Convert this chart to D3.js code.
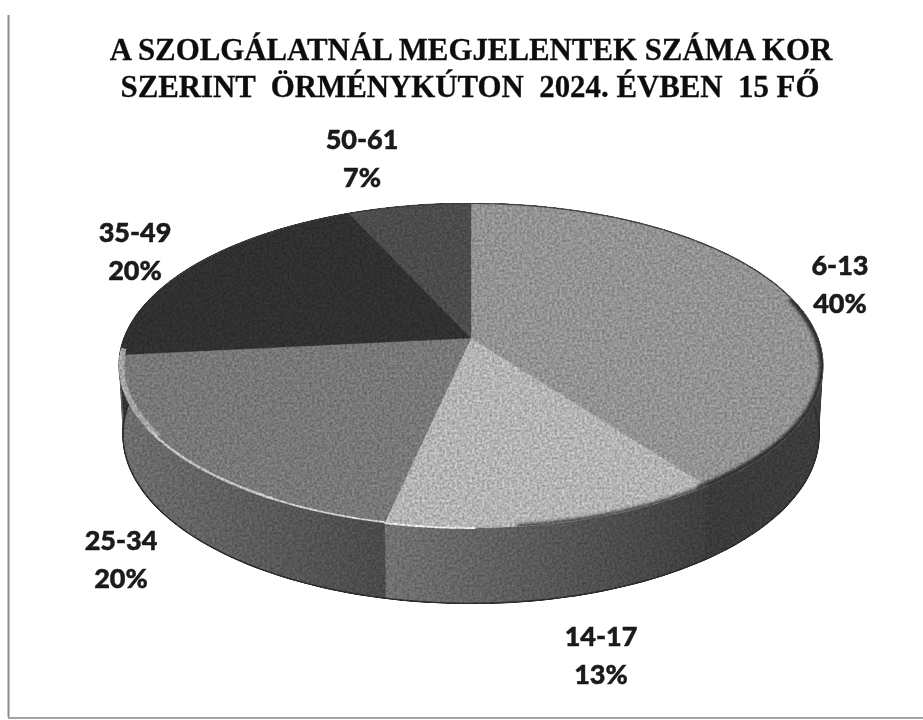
<!DOCTYPE html>
<html><head><meta charset="utf-8">
<script src="https://cdnjs.cloudflare.com/ajax/libs/d3/7.8.5/d3.min.js"></script>
<style>html,body{margin:0;padding:0;background:#fff}svg{display:block}</style>
</head><body><svg id="c" width="923" height="720"></svg>
<script>
const titleLines = ["A SZOLGÁLATNÁL MEGJELENTEK SZÁMA KOR", "SZERINT  ÖRMÉNYKÚTON  2024. ÉVBEN  15 FŐ"];
const categories = ["6-13", "14-17", "25-34", "35-49", "50-61"];
const counts = [6, 2, 3, 3, 1];
const percentLabels = ["40%", "13%", "20%", "20%", "7%"];
const topColors = ["#939393", "#b4b4b4", "#787878", "#303030", "#4c4c4c"];
const sideLeft = ["#3a3a3a", "#727272", "#6e6e6e", "#333333", "#444444"];
const sideRight = ["#3c3c3c", "#3e3e3e", "#4a4a4a", "#333333", "#444444"];
const labelAnchors = [[840, 275], [601, 646], [121, 550], [135, 242], [362, 149]];

const svg = d3.select("#c");
const W = 923, H = 720;
const defs = svg.append("defs");

const f = defs.append("filter").attr("id","grain").attr("x","0").attr("y","0").attr("width","1").attr("height","1")
  .attr("color-interpolation-filters","sRGB");
f.append("feGaussianBlur").attr("in","SourceGraphic").attr("stdDeviation",0.6).attr("result","soft");
f.append("feTurbulence").attr("type","fractalNoise").attr("baseFrequency",0.4).attr("numOctaves",2).attr("seed",4).attr("result","n");
f.append("feColorMatrix").attr("in","n").attr("type","matrix")
  .attr("values","1 0 0 0 0  1 0 0 0 0  1 0 0 0 0  0 0 0 0 1").attr("result","gray");
f.append("feComposite").attr("in","soft").attr("in2","gray").attr("operator","arithmetic")
  .attr("k1",0.6).attr("k2",0.7).attr("k3",0).attr("k4",0);
const soft = defs.append("filter").attr("id","soft").attr("x","-5%").attr("y","-5%").attr("width","110%").attr("height","110%");
soft.append("feGaussianBlur").attr("stdDeviation",1.8);
defs.append("filter").attr("id","ts").append("feGaussianBlur").attr("stdDeviation",0.35);

const persp = 0.169;
const project = (R, S, cx, cy) => a => {
  const u = Math.sin(a), v = -Math.cos(a), w = 1 - persp * v;
  return [cx + R * u / w, cy + S * v / w];
};
const topRim = project(347, 157.8, 471, 338);
const botRim = project(343, 164, 471, 406);
const apex = [471, 338];
const line = d3.line();
const samples = (a0, a1, n = 60) => d3.range(n + 1).map(i => a0 + (a1 - a0) * i / n);

const pie = d3.pie().sort(null).value(d => d);
const arcs = pie(counts);
const color = d3.scaleOrdinal(categories, topColors);

const g = svg.append("g").attr("filter","url(#grain)");

const circle = samples(0, 2 * Math.PI, 240);
const hull = d3.polygonHull(circle.map(topRim).concat(circle.map(botRim)));
const hg = defs.append("linearGradient").attr("id","hullFill").attr("gradientUnits","userSpaceOnUse")
  .attr("x1",100).attr("x2",840).attr("y1",0).attr("y2",0);
[[0,"#6e6e6e"],[0.5,"#6e6e6e"],[0.5,"#3c3c3c"],[1,"#3c3c3c"]].forEach(s =>
  hg.append("stop").attr("offset",s[0]).attr("stop-color",s[1]));
g.append("path").attr("d", line(hull) + "Z").attr("fill","url(#hullFill)");

const front = [Math.PI * 0.44, Math.PI * 1.56];
arcs.map((d, i) => ({i, a0: Math.max(d.startAngle, front[0]), a1: Math.min(d.endAngle, front[1])}))
  .filter(d => d.a1 > d.a0)
  .forEach(d => {
    const id = "side" + d.i;
    const pts = samples(d.a0, d.a1);
    const xs = pts.map(a => botRim(a)[0]).concat(pts.map(a => topRim(a)[0]));
    const lg = defs.append("linearGradient").attr("id", id).attr("gradientUnits","userSpaceOnUse")
      .attr("x1", d3.min(xs)).attr("x2", d3.max(xs)).attr("y1",0).attr("y2",0);
    lg.append("stop").attr("offset",0).attr("stop-color", sideLeft[d.i]);
    lg.append("stop").attr("offset",1).attr("stop-color", sideRight[d.i]);
    g.append("path")
      .attr("d", line(pts.map(topRim).concat(pts.slice().reverse().map(botRim))) + "Z")
      .attr("fill", `url(#${id})`).attr("stroke", `url(#${id})`).attr("stroke-width",0.6);
  });
g.append("path").attr("d", line(samples(1.0, 5.25, 160).map(botRim)))
  .attr("fill","none").attr("stroke","#2c2c2c").attr("stroke-width",1.4);

arcs.forEach((d, i) => {
  const pts = samples(d.startAngle, d.endAngle).map(topRim);
  g.append("path").attr("d", line([apex, ...pts]) + "Z")
    .attr("fill", color(categories[i])).attr("stroke", color(categories[i])).attr("stroke-width",0.4);
});

const rp = d3.range(0, 2 * Math.PI + .01, .02).map(topRim);
defs.append("clipPath").attr("id","face").append("path").attr("d", line(rp) + "Z");
const fx = g.append("g").attr("clip-path","url(#face)");
fx.append("path").attr("d", line(samples(1.3, arcs[0].endAngle + 0.03).map(topRim)))
  .attr("fill","none").attr("stroke","#2e2e2e").attr("stroke-width",8).attr("filter","url(#soft)");
fx.append("path").attr("d", line(samples(arcs[1].startAngle, arcs[1].endAngle - 0.32).map(topRim)))
  .attr("fill","none").attr("stroke","#4a4a4a").attr("stroke-width",5).attr("filter","url(#soft)");
fx.append("path").attr("d", line(samples(-1.2, 1.3, 120).map(topRim)))
  .attr("fill","none").attr("stroke","#3a3a3a").attr("stroke-width",2);
fx.append("path").attr("d", line(samples(4.1, 4.65, 40).map(topRim)))
  .attr("fill","none").attr("stroke","#a6a6a6").attr("stroke-width",11);
fx.append("path").attr("d", line(samples(3.65, 4.15, 40).map(topRim)))
  .attr("fill","none").attr("stroke","#c0c0c0").attr("stroke-width",5);
fx.append("path").attr("d", line(samples(arcs[2].startAngle, 3.7, 40).map(topRim)))
  .attr("fill","none").attr("stroke","#d4d4d4").attr("stroke-width",3.4);
g.append("path").attr("d", line(samples(arcs[1].endAngle - 0.22, arcs[1].endAngle, 20).map(topRim)))
  .attr("fill","none").attr("stroke","#e4e4e4").attr("stroke-width",2);

const tg = svg.append("g").attr("filter","url(#ts)");
tg.selectAll("text.title").data(titleLines).join("text").attr("class","title")
  .attr("x",(d,i)=>i?470:471).attr("y",(d,i)=>60+i*36.5).attr("text-anchor","middle")
  .attr("font-family","'Liberation Serif',serif").attr("font-weight",700).attr("font-size",30.85)
  .attr("fill","#101010").attr("stroke","#101010").attr("stroke-width",0.3).style("white-space","pre").text(d=>d);

categories.forEach((c,i)=>{
  const [x,y]=labelAnchors[i];
  [c,percentLabels[i]].forEach((t,j)=>{
    tg.append("text").attr("x",x).attr("y",y+j*37.5).attr("text-anchor","middle")
      .attr("font-family","Lato,sans-serif").attr("font-weight",900).attr("font-size",27)
      .attr("fill","#1a1a1a").attr("stroke","#1a1a1a").attr("stroke-width",0.5).text(t);
  });
});

svg.append("line").attr("x1",8.5).attr("x2",8.5).attr("y1",15).attr("y2",717).attr("stroke","#8c8c8c").attr("stroke-width",2);
svg.append("line").attr("x1",8).attr("x2",W).attr("y1",H-2).attr("y2",H-2).attr("stroke","#a4a4a4").attr("stroke-width",2);
</script></body></html>
